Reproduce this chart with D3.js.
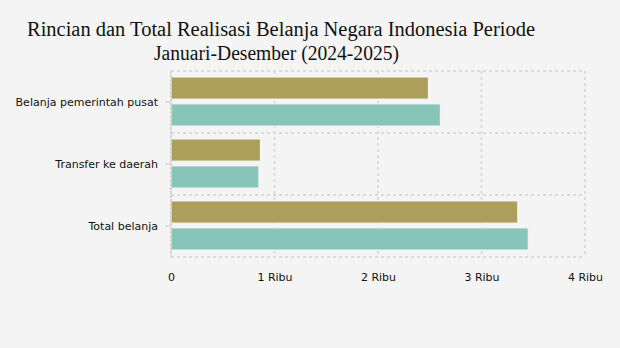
<!DOCTYPE html>
<html>
<head>
<meta charset="utf-8">
<script src="https://cdn.jsdelivr.net/npm/d3@7"></script>
<style>
  html, body { margin: 0; padding: 0; background: #f4f4f4; }
  svg { display: block; }
</style>
</head>
<body>
<svg id="chart" width="620" height="348"></svg>
<script>
// Realisasi belanja negara (triliun rupiah)
const categories = ["Belanja pemerintah pusat", "Transfer ke daerah", "Total belanja"];
const seriesNames = ["2024", "2025"];
const values2024 = [2486.7, 863.5, 3350.3];
const values2025 = [2602.3, 849.0, 3451.4];
const tickValues = [0, 1000, 2000, 3000, 4000];
const tickLabels = ["0", "1 Ribu", "2 Ribu", "3 Ribu", "4 Ribu"];
const colors = ["#ad9f5b", "#86c5b8"];
const titleLines = ["Rincian dan Total Realisasi Belanja Negara Indonesia Periode", "Januari-Desember (2024-2025)"];

const rows = categories.map((c, i) => ({ category: c, vals: [values2024[i], values2025[i]] }));

const svg = d3.select("#chart");
const W = 620, H = 348;
svg.append("rect").attr("width", W).attr("height", H).attr("fill", "#f4f4f4");

const plot = { left: 171, right: 585, top: 71, bottom: 257 };

const x = d3.scaleLinear().domain([0, 4000]).range([plot.left, plot.right]);
const y = d3.scaleBand().domain(categories).range([plot.top, plot.bottom]).paddingInner(0).paddingOuter(0);
const inner = d3.scaleBand().domain(seriesNames).range([6, y.bandwidth() - 7]).paddingInner(0.18);

// Grid
const grid = svg.append("g").attr("stroke", "#dcdcdc").attr("stroke-width", 2).attr("stroke-dasharray", "3,3").attr("fill", "none");
tickValues.slice(1).forEach(v => {
  grid.append("line").attr("x1", x(v)).attr("x2", x(v)).attr("y1", plot.top).attr("y2", plot.bottom);
});
const hLines = categories.map(c => y(c)).concat([plot.bottom]);
hLines.forEach(yy => {
  grid.append("line").attr("x1", plot.left).attr("x2", plot.right).attr("y1", yy).attr("y2", yy);
});

// Bars
const groups = svg.append("g").selectAll("g").data(rows).join("g")
  .attr("transform", d => `translate(0,${y(d.category)})`);
groups.selectAll("rect").data(d => d.vals.map((v, i) => ({ v, i })))
  .join("rect")
  .attr("x", x(0))
  .attr("y", d => inner(seriesNames[d.i]))
  .attr("width", d => x(d.v) - x(0))
  .attr("height", inner.bandwidth())
  .attr("fill", d => colors[d.i])
  .attr("stroke", "#f6f6f6")
  .attr("stroke-width", 1);

// Left axis line
svg.append("line").attr("x1", plot.left).attr("x2", plot.left).attr("y1", plot.top).attr("y2", plot.bottom)
  .attr("stroke", "#d2d2d2").attr("stroke-width", 2).attr("stroke-dasharray", "3,1");

// Y axis labels and ticks
const yAxis = d3.axisLeft(y).tickSize(6).tickPadding(7);
const gy = svg.append("g").attr("transform", `translate(${plot.left},0)`).call(yAxis);
gy.select(".domain").remove();
gy.selectAll(".tick line").attr("stroke", "#d9d9d9").attr("stroke-width", 1.5);
gy.selectAll(".tick text").attr("fill", "#111").attr("font-family", "DejaVu Sans, Verdana, sans-serif").attr("font-size", "11px");

// X axis labels
const xAxis = d3.axisBottom(x).tickValues(tickValues).tickFormat((d, i) => tickLabels[i]).tickSize(0).tickPadding(16);
const gx = svg.append("g").attr("transform", `translate(0,${plot.bottom})`).call(xAxis);
gx.select(".domain").remove();
gx.selectAll(".tick text").attr("fill", "#111").attr("font-family", "DejaVu Sans, Verdana, sans-serif").attr("font-size", "11px");

// Title
const title = svg.append("g").attr("font-family", "Liberation Serif, Times New Roman, serif").attr("font-size", "20.5px").attr("fill", "#111");
title.append("text").attr("x", 27).attr("y", 36).attr("textLength", 508).attr("lengthAdjust", "spacingAndGlyphs").text(titleLines[0]);
title.append("text").attr("x", 154).attr("y", 60).attr("textLength", 245).attr("lengthAdjust", "spacingAndGlyphs").text(titleLines[1]);
</script>
</body>
</html>
